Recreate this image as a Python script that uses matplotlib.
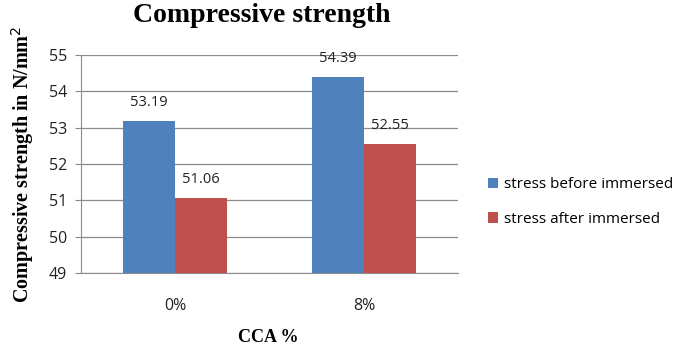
import numpy as np
import matplotlib.pyplot as plt

categories = ['0%', '8%']
before = [53.19, 54.39]
after = [51.06, 52.55]
series_names = ['stress before immersed', 'stress after immersed']

blue = '#4F81BD'
red = '#C0504D'

fig = plt.figure(figsize=(6.8, 3.5), dpi=100)
ax = fig.add_axes([0.119, 0.22, 0.555, 0.623])

x = np.arange(len(categories))
w = 0.276
b1 = ax.bar(x - w/2, np.array(before) - 49, w, bottom=49, color=blue, label=series_names[0], zorder=3)
b2 = ax.bar(x + w/2, np.array(after) - 49, w, bottom=49, color=red, label=series_names[1], zorder=3)

for rects, vals in [(b1, before), (b2, after)]:
    for r, v in zip(rects, vals):
        ax.annotate('%.2f' % v, (r.get_x() + r.get_width()/2, v), xytext=(0, 8),
                    textcoords='offset points', ha='center', va='bottom',
                    fontsize=10.5, family='Open Sans', color='#222222')

ax.set_xlim(-0.5, 1.5)
ax.set_ylim(49, 55)
ax.set_yticks(range(49, 56))
ax.set_xticks(x)
ax.set_xticklabels(categories)
ax.yaxis.grid(True, color='#8c8c8c', linewidth=0.9, zorder=0)
ax.set_axisbelow(True)

for s in ['top', 'right']:
    ax.spines[s].set_visible(False)
for s in ['left', 'bottom']:
    ax.spines[s].set_color('#8c8c8c')
ax.tick_params(axis='y', colors='#8c8c8c', length=4, labelsize=11.5, labelcolor='#222222', pad=6)
ax.tick_params(axis='x', length=0, labelsize=11.5, labelcolor='#222222', pad=18)
for lbl in ax.get_xticklabels() + ax.get_yticklabels():
    lbl.set_family('Open Sans')

fig.text(0.385, 0.955, 'Compressive strength', ha='center', va='center',
         fontsize=20, fontweight='bold', family='Liberation Serif')
ax.set_ylabel('Compressive strength in N/mm$^2$', fontsize=14.5, fontweight='bold',
              family='Liberation Serif', labelpad=9)
fig.text(0.395, 0.035, 'CCA %', ha='center', va='center', fontsize=13,
         fontweight='bold', family='Liberation Serif')

leg = fig.legend(loc='center left', bbox_to_anchor=(0.698, 0.423), frameon=False,
                 prop={'family': 'Open Sans', 'size': 11}, handlelength=0.65,
                 handleheight=0.65, handletextpad=0.4, labelspacing=1.3)

fig.savefig('out.png', dpi=100)
